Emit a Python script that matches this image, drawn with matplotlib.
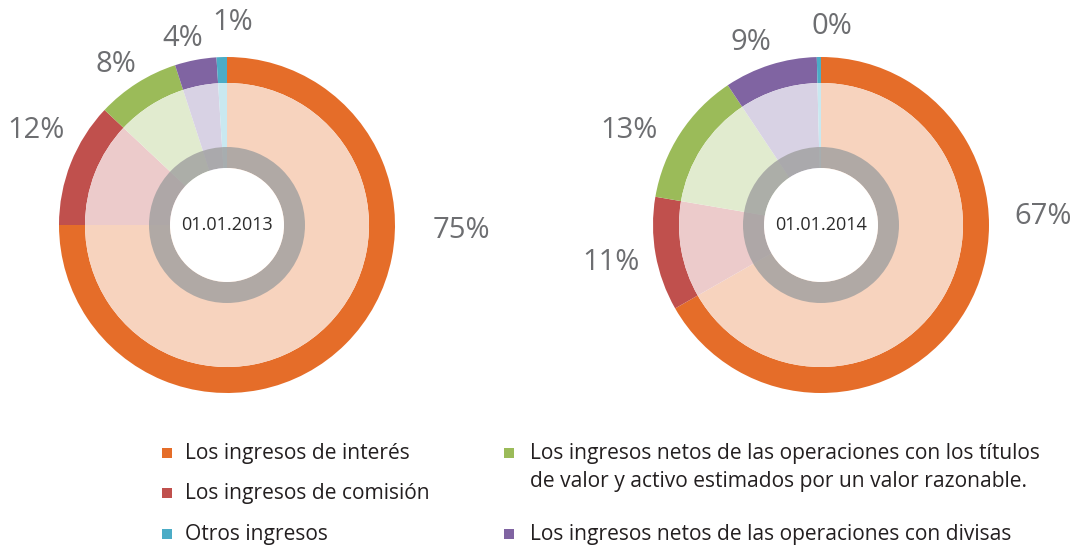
import matplotlib
matplotlib.use("Agg")
import matplotlib.pyplot as plt
from matplotlib.patches import Circle, Wedge

# Data
categories = [
    "Los ingresos de interés",
    "Los ingresos de comisión",
    "Los ingresos netos de las operaciones con los títulos\nde valor y activo estimados por un valor razonable.",
    "Los ingresos netos de las operaciones con divisas",
    "Otros ingresos",
]
dates = ["01.01.2013", "01.01.2014"]
shares_2013 = [75, 12, 8, 4, 1]
shares_2014 = [67, 11, 13, 9, 0.4]

dark = ["#E56D29", "#C0504D", "#9BBB59", "#8064A2", "#4BACC6"]
light = ["#F7D3BE", "#ECCBCB", "#E1EBCF", "#D8D2E4", "#C9E8F0"]

W, H = 1077, 546
fig = plt.figure(figsize=(W / 100, H / 100), dpi=100)
ax = fig.add_axes([0, 0, 1, 1])

FONT = ["Open Sans", "DejaVu Sans"]
R_OUT, R_MID, R_GREY, R_HOLE = 168, 142, 78, 57

centers = [(227, H - 225), (821, H - 225)]
# label positions (pixel coords, top-left origin) per pie
label_pos = [
    [(461, 230), (36, 131), (116, 64), (183, 39), (233, 23)],
    [(1043, 217), (611, 262), (629, 130), (751, 43), (832, 27)],
]

for (cx, cy), shares, date, lpos in zip(centers, [shares_2013, shares_2014], dates, label_pos):
    # outer ring
    ax.pie(shares, colors=dark, startangle=90, counterclock=False, radius=R_OUT,
           center=(cx, cy), wedgeprops=dict(width=R_OUT - R_MID, linewidth=0), frame=True)
    # light fill
    ax.pie(shares, colors=light, startangle=90, counterclock=False, radius=R_MID,
           center=(cx, cy), wedgeprops=dict(linewidth=0), frame=True)
    ax.add_patch(Wedge((cx, cy), R_GREY, 0, 360, width=R_GREY - R_HOLE,
                       facecolor="#9f9f9f", alpha=0.8, linewidth=0, zorder=5))
    ax.add_patch(Circle((cx, cy), R_HOLE, facecolor="white", linewidth=0, zorder=6))
    ax.text(cx, cy, date, ha="center", va="center", fontsize=13, color="#2b2b2b",
            family=FONT, zorder=7)
    for v, (px, py) in zip(shares, lpos):
        ax.text(px, H - py, f"{v:.0f}%", ha="center", va="center", fontsize=21,
                color="#6d6e71", family=FONT)

ax.set_xlim(0, W)
ax.set_ylim(0, H)
ax.set_aspect("equal")
ax.axis("off")

# legend
legend_pos = [(167, 453), (167, 493), (509, 453), (509, 534), (167, 534)]
text_dx = [18, 18, 21, 21, 18]
for color, label, (px, py), dx in zip(dark, categories, legend_pos, text_dx):
    ax.scatter([px], [H - py], marker="s", s=62, color=color, linewidths=0)
    ax.text(px + dx, H - py + 10, label, ha="left", va="top", fontsize=15.1,
            color="#231f20", family=FONT, linespacing=1.42)

fig.savefig("out.png", dpi=100)
